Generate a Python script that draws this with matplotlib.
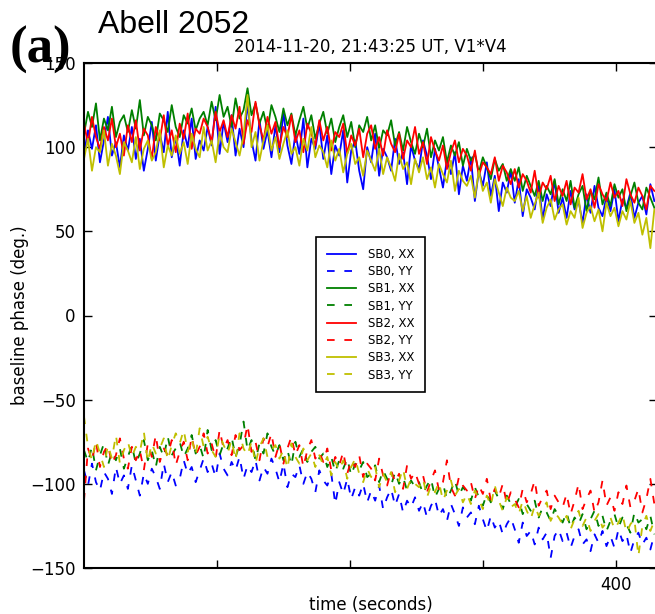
import numpy as np
import matplotlib
matplotlib.use("Agg")
import matplotlib.pyplot as plt

plt.rcParams['lines.scale_dashes'] = False

# sample times (seconds), one every 3 s
t = np.arange(144) * 3

# XX polarisation (upper group), degrees
sb0_xx = [96, 110, 99, 113, 91, 104, 118, 95, 103, 88, 107, 98,
          112, 93, 105, 86, 99, 115, 92, 108, 97, 121, 94, 106,
          89, 110, 100, 117, 93, 104, 98, 112, 101, 124, 96, 115,
          103, 119, 95, 111, 100, 126, 104, 92, 116, 99, 110, 94,
          113, 97, 121, 101, 90, 108, 96, 117, 88, 105, 99, 114,
          93, 107, 84, 101, 95, 110, 79, 98, 104, 86, 75, 100,
          91, 108, 83, 99, 94, 86, 105, 90, 97, 78, 101, 92,
          87, 104, 95, 81, 99, 88, 76, 93, 84, 97, 72, 89,
          80, 94, 68, 86, 77, 91, 71, 83, 62, 79, 73, 86,
          67, 81, 59, 75, 70, 63, 78, 57, 72, 65, 80, 61,
          70, 58, 74, 63, 68, 55, 72, 61, 77, 64, 59, 71,
          62, 75, 56, 69, 64, 73, 58, 67, 71, 60, 78, 68]
sb1_xx = [108, 121, 112, 126, 104, 117, 110, 124, 106, 115, 119, 109,
          122, 111, 128, 107, 118, 113, 104, 120, 116, 109, 125, 112,
          106, 119, 114, 123, 110, 117, 121, 113, 127, 116, 131, 118,
          124, 112, 129, 117, 122, 135, 119, 126, 114, 121, 110, 125,
          118, 109, 123, 113, 120, 107, 116, 124, 111, 119, 105, 114,
          121, 108, 117, 103, 112, 119, 106, 115, 100, 113, 109, 118,
          104, 113, 99, 110, 107, 116, 101, 109, 98, 112, 103, 96,
          108, 100, 111, 94, 104, 98, 106, 91, 101, 95, 103, 89,
          99, 92, 96, 85, 94, 88, 81, 93, 86, 90, 80, 87,
          80, 88, 74, 83, 77, 71, 80, 68, 77, 72, 81, 66,
          75, 68, 80, 64, 72, 77, 62, 74, 69, 82, 66, 73,
          65, 78, 70, 75, 62, 71, 79, 67, 63, 76, 70, 64]
sb2_xx = [114, 102, 118, 106, 99, 112, 104, 117, 100, 108, 95, 113,
          103, 116, 98, 111, 107, 93, 112, 104, 119, 101, 110, 97,
          114, 105, 120, 99, 111, 108, 117, 112, 103, 121, 109, 116,
          106, 119, 111, 124, 102, 116, 109, 127, 113, 104, 118, 108,
          115, 100, 112, 106, 119, 103, 110, 97, 114, 108, 101, 116,
          104, 112, 98, 109, 106, 114, 96, 107, 101, 111, 94, 108,
          113, 99, 106, 95, 110, 102, 97, 108, 93, 104, 100, 112,
          96, 103, 90, 106, 98, 92, 101, 87, 97, 104, 91, 99,
          95, 86, 98, 83, 91, 88, 84, 94, 80, 89, 85, 78,
          87, 76, 84, 80, 73, 86, 70, 79, 75, 83, 68, 77,
          71, 80, 66, 76, 73, 84, 69, 75, 64, 78, 72, 68,
          79, 70, 74, 65, 81, 72, 67, 76, 71, 63, 77, 74]
sb3_xx = [93, 105, 86, 100, 97, 110, 89, 102, 95, 84, 103, 98,
          91, 106, 87, 99, 104, 92, 97, 110, 88, 101, 95, 107,
          96, 103, 90, 108, 99, 94, 112, 98, 104, 91, 109, 100,
          97, 111, 103, 95, 107, 131, 100, 109, 92, 104, 113, 98,
          106, 93, 102, 110, 96, 100, 89, 105, 98, 112, 94, 101,
          97, 88, 104, 92, 99, 85, 96, 102, 90, 94, 83, 98,
          92, 86, 99, 84, 94, 88, 80, 96, 87, 91, 78, 93,
          85, 94, 81, 88, 76, 90, 84, 79, 92, 74, 86, 80,
          77, 83, 70, 86, 74, 79, 67, 81, 73, 65, 76, 70,
          68, 74, 62, 71, 58, 66, 73, 55, 64, 69, 57, 63,
          66, 54, 62, 58, 70, 52, 61, 65, 56, 63, 50, 67,
          59, 64, 53, 62, 57, 68, 55, 61, 48, 58, 40, 63]

# YY polarisation (lower group), degrees
sb0_yy = [-92, -101, -88, -99, -104, -93, -97, -106, -90, -100, -95, -103,
          -89, -98, -107, -94, -100, -91, -96, -103, -88, -99, -93, -101,
          -97, -86, -94, -90, -99, -92, -85, -93, -88, -96, -82, -91,
          -95, -87, -92, -84, -97, -89, -93, -86, -98, -90, -94, -85,
          -91, -99, -88, -102, -94, -96, -89, -100, -93, -97, -105, -92,
          -98, -101, -94, -112, -99, -106, -97, -109, -102, -107, -100, -111,
          -104, -110, -101, -115, -108, -103, -113, -106, -117, -110, -114, -108,
          -116, -111, -120, -113, -109, -119, -115, -122, -112, -118, -125, -114,
          -120, -117, -124, -113, -121, -128, -119, -126, -122, -130, -124, -120,
          -127, -135, -123, -131, -128, -136, -126, -133, -129, -144, -131, -127,
          -134, -129, -138, -131, -127, -136, -133, -140, -130, -135, -128, -137,
          -131, -138, -127, -134, -130, -141, -133, -129, -136, -132, -139, -130]
sb1_yy = [-80, -87, -78, -92, -83, -76, -89, -81, -86, -79, -91, -84,
          -77, -88, -82, -74, -86, -80, -90, -78, -84, -72, -83, -79,
          -75, -84, -79, -71, -82, -77, -85, -68, -80, -74, -83, -76,
          -79, -72, -84, -77, -63, -80, -74, -86, -76, -82, -70, -78,
          -83, -77, -86, -80, -89, -75, -84, -79, -87, -81, -78, -85,
          -82, -90, -84, -93, -86, -91, -85, -95, -88, -92, -87, -96,
          -94, -89, -99, -92, -97, -101, -93, -100, -96, -104, -98, -102,
          -99, -106, -101, -97, -108, -103, -100, -109, -104, -98, -107, -102,
          -105, -110, -102, -108, -113, -106, -111, -104, -109, -115, -107, -112,
          -114, -109, -118, -112, -116, -110, -120, -114, -117, -122, -115, -119,
          -123, -117, -126, -120, -124, -118, -127, -121, -116, -125, -119, -128,
          -122, -118, -126, -120, -124, -129, -117, -123, -121, -127, -119, -130]
sb2_yy = [-110, -79, -86, -75, -90, -81, -77, -88, -83, -73, -85, -91,
          -78, -86, -80, -92, -76, -84, -71, -87, -79, -83, -74, -89,
          -81, -75, -86, -72, -83, -78, -70, -82, -76, -85, -68, -79,
          -74, -83, -71, -80, -77, -65, -81, -75, -86, -73, -78, -70,
          -84, -76, -88, -79, -72, -83, -77, -90, -80, -74, -85, -81,
          -87, -79, -92, -84, -89, -81, -94, -86, -90, -83, -96, -88,
          -91, -98, -85, -95, -101, -92, -99, -94, -103, -89, -97, -93,
          -100, -95, -105, -98, -92, -104, -99, -86, -102, -107, -96, -101,
          -104, -99, -109, -101, -106, -97, -110, -103, -108, -100, -112, -105,
          -109, -114, -103, -111, -106, -98, -113, -108, -104, -115, -107, -111,
          -114, -106, -118, -110, -100, -115, -109, -104, -117, -111, -98, -113,
          -108, -116, -105, -112, -101, -114, -110, -103, -117, -109, -97, -112]
sb3_yy = [-60, -78, -86, -74, -82, -90, -77, -85, -71, -88, -80, -75,
          -84, -78, -81, -69, -87, -76, -82, -79, -73, -86, -77, -70,
          -76, -68, -81, -73, -83, -67, -78, -72, -80, -84, -71, -77,
          -82, -74, -86, -70, -79, -83, -75, -88, -78, -73, -84, -80,
          -77, -85, -80, -91, -76, -84, -88, -79, -86, -82, -90, -83,
          -89, -84, -95, -87, -92, -86, -97, -90, -85, -94, -99, -91,
          -96, -90, -102, -94, -99, -93, -105, -98, -91, -103, -97, -100,
          -102, -97, -108, -101, -105, -99, -110, -104, -98, -107, -103, -111,
          -106, -112, -104, -109, -115, -107, -113, -101, -110, -116, -108, -114,
          -112, -118, -110, -116, -121, -113, -119, -115, -111, -122, -117, -120,
          -124, -119, -127, -121, -116, -125, -120, -128, -122, -118, -126, -123,
          -120, -127, -123, -118, -129, -124, -121, -143, -125, -119, -128, -122]

series = [("SB0, XX", sb0_xx, "b", "-"), ("SB0, YY", sb0_yy, "b", "--"),
          ("SB1, XX", sb1_xx, "g", "-"), ("SB1, YY", sb1_yy, "g", "--"),
          ("SB2, XX", sb2_xx, "r", "-"), ("SB2, YY", sb2_yy, "r", "--"),
          ("SB3, XX", sb3_xx, "y", "-"), ("SB3, YY", sb3_yy, "y", "--")]
colors = {"b": (0, 0, 1), "g": (0, 0.5, 0), "r": (1, 0, 0), "y": (0.75, 0.75, 0)}

fig = plt.figure(figsize=(6.55, 6.14), dpi=100)
ax = fig.add_axes([84/655, 1-568/614, (657-84)/655, 505/614])

for name, vals, c, ls in series:
    if ls == "--":
        ax.plot(t, vals, color=colors[c], lw=1.3, linestyle=(0, (5.5, 7)), label=name)
    else:
        ax.plot(t, vals, color=colors[c], lw=1.3, label=name)

ax.set_xlim(0, 431)
ax.set_ylim(-150, 150)
ax.set_xticks([100, 200, 300, 400])
ax.set_xticklabels(["", "", "", "400"])
ax.set_yticks([-150, -100, -50, 0, 50, 100, 150])
ax.tick_params(direction="in", top=True, right=True, length=6, width=1, labelsize=12, pad=6)
for s in ax.spines.values():
    s.set_linewidth(1.5)

ax.set_xlabel("time (seconds)", fontsize=12, labelpad=1)
ax.set_ylabel("baseline phase (deg.)", fontsize=12, labelpad=1)
ax.set_title("2014-11-20, 21:43:25 UT, V1*V4", fontsize=12, pad=8)

leg = ax.legend(loc="upper left", bbox_to_anchor=(0.405, 0.655), fontsize=8.5,
                fancybox=False, framealpha=1, edgecolor="k", handlelength=2.5,
                labelspacing=0.36, borderpad=0.9, handletextpad=1.0, borderaxespad=0)
leg.get_frame().set_linewidth(1.2)

fig.text(98/655, 1-33/614, "Abell 2052", fontsize=23, family="Liberation Sans")
fig.text(10/655, 1-63/614, "(a)", fontsize=38, family="Liberation Serif", weight="bold")

fig.savefig("out.png", dpi=100)
